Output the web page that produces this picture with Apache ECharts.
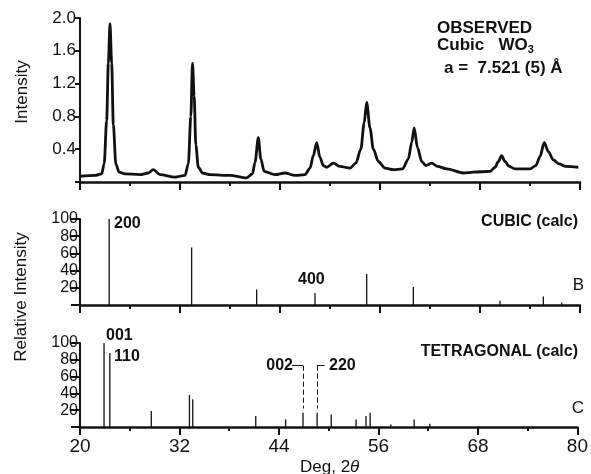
<!DOCTYPE html>
<html>
<head>
<meta charset="utf-8">
<script src="https://cdn.jsdelivr.net/npm/echarts@6/dist/echarts.min.js"></script>
<style>
  html, body { margin: 0; padding: 0; background: #fff; }
  #chart { width: 591px; height: 474px; }
</style>
</head>
<body>
<div id="chart"></div>
<script>
// observed pattern (deg 2theta, intensity)
const obsDeg = [20.0, 21.8, 22.6, 22.9, 23.2, 23.4, 23.6, 23.8, 24.0, 24.3, 24.7, 25.4, 27.2, 28.2, 28.8,
  29.6, 31.4, 32.6, 33.0, 33.3, 33.5, 33.7, 33.9, 34.2, 34.7, 35.6, 38.0, 40.0, 40.7, 41.0, 41.4, 41.7,
  42.1, 43.4, 44.6, 45.8, 47.0, 47.6, 48.0, 48.4, 48.8, 49.2, 49.6, 50.4, 51.2, 52.4, 53.1, 53.7, 54.1,
  54.4, 54.8, 55.2, 55.8, 56.6, 57.6, 58.7, 59.4, 59.8, 60.1, 60.5, 61.0, 61.5, 62.2, 62.9, 64.0, 66.0,
  67.2, 69.2, 69.8, 70.2, 70.6, 71.0, 71.5, 72.2, 74.0, 74.7, 75.2, 75.7, 76.2, 76.8, 77.5, 78.3, 79.8];
const obsInt = [0.07, 0.08, 0.10, 0.22, 0.75, 1.45, 1.93, 1.45, 0.70, 0.22, 0.12, 0.10, 0.09, 0.11, 0.15,
  0.09, 0.06, 0.08, 0.22, 0.80, 1.45, 1.05, 0.45, 0.18, 0.11, 0.09, 0.08, 0.05, 0.10, 0.24, 0.54, 0.28,
  0.13, 0.09, 0.11, 0.08, 0.09, 0.17, 0.32, 0.48, 0.30, 0.20, 0.18, 0.23, 0.19, 0.17, 0.23, 0.40, 0.72,
  0.97, 0.66, 0.40, 0.25, 0.17, 0.15, 0.16, 0.28, 0.48, 0.66, 0.42, 0.25, 0.20, 0.23, 0.19, 0.16, 0.11,
  0.12, 0.13, 0.18, 0.25, 0.32, 0.25, 0.19, 0.16, 0.16, 0.20, 0.31, 0.48, 0.37, 0.27, 0.22, 0.19, 0.18];

// calculated cubic lines
const cubicDeg = [23.5, 33.4, 41.2, 48.2, 54.4, 60.0, 70.4, 75.6, 77.8];
const cubicInt = [100, 67, 18, 14, 36, 21, 5, 10, 3];

// calculated tetragonal lines
const tetraDeg = [22.9, 23.6, 28.6, 33.2, 33.6, 41.2, 44.8, 46.9, 48.6, 50.3, 53.3, 54.5, 55.0, 57.5, 60.3, 62.2];
const tetraInt = [100, 88, 19, 38, 33, 13, 9, 17, 17, 15, 9, 13, 17, 3, 9, 4];

const xTicks = { min: 20, max: 80, interval: 12 };
const topTicks = { min: 0, max: 2.0, interval: 0.4 };
const relTicks = { min: 0, max: 100, interval: 20 };

const FONT = "'Liberation Sans', Arial, Helvetica, sans-serif";
const INK = '#111';

function pairs(xs, ys) {
  return xs.map((x, i) => [x, ys[i]]);
}

function xAxis(idx, showLabel) {
  return {
    type: 'value', gridIndex: idx, min: xTicks.min, max: xTicks.max, interval: xTicks.interval,
    axisLine: { show: true, onZero: false, lineStyle: { color: INK, width: 2.5 } },
    axisTick: { show: true, length: 8, lineStyle: { color: INK, width: 2 } },
    minorTick: { show: true, splitNumber: 2, length: 4, lineStyle: { color: INK, width: 2 } },
    splitLine: { show: false },
    axisLabel: { show: showLabel, color: INK, fontSize: 19, fontFamily: FONT, margin: 10 }
  };
}

function yAxis(idx, t, digits, fs, tickLen, margin) {
  return {
    type: 'value', gridIndex: idx, min: t.min, max: t.max, interval: t.interval,
    axisLine: { show: true, lineStyle: { color: INK, width: 2 } },
    axisTick: { show: true, length: tickLen, lineStyle: { color: INK, width: 2 } },
    splitLine: { show: false },
    axisLabel: {
      color: INK, fontSize: fs, fontFamily: FONT, margin: margin,
      formatter: v => (v === 0 ? '' : v.toFixed(digits))
    }
  };
}

const chart = echarts.init(document.getElementById('chart'));

const option = {
  animation: false,
  backgroundColor: '#fff',
  grid: [
    { left: 80, right: 11, top: 18, height: 164 },
    { left: 80, right: 11, top: 219, height: 86 },
    { left: 80, right: 11, top: 343, height: 84 }
  ],
  xAxis: [xAxis(0, false), xAxis(1, false), xAxis(2, true)],
  yAxis: [
    yAxis(0, topTicks, 1, 17, 5, 4),
    yAxis(1, relTicks, 0, 16, 9, 2),
    yAxis(2, relTicks, 0, 16, 9, 2)
  ],
  series: [
    {
      type: 'line', xAxisIndex: 0, yAxisIndex: 0,
      data: pairs(obsDeg, obsInt),
      showSymbol: false, smooth: 0.3, smoothMonotone: 'x',
      lineStyle: { color: INK, width: 2.8 }
    },
    {
      type: 'bar', xAxisIndex: 1, yAxisIndex: 1,
      data: pairs(cubicDeg, cubicInt),
      barWidth: 1.3, itemStyle: { color: INK }
    },
    {
      type: 'bar', xAxisIndex: 2, yAxisIndex: 2,
      data: pairs(tetraDeg, tetraInt),
      barWidth: 1.3, itemStyle: { color: INK },
      markLine: {
        silent: true, symbol: 'none', label: { show: false },
        lineStyle: { color: INK, width: 1, type: 'solid' },
        data: [
          [{ coord: [45.6, 73] }, { coord: [46.9, 73] }],
          [{ coord: [46.9, 73], lineStyle: { type: [5, 3] } }, { coord: [46.9, 22] }],
          [{ coord: [48.6, 73] }, { coord: [49.5, 73] }],
          [{ coord: [48.6, 73], lineStyle: { type: [5, 3] } }, { coord: [48.6, 22] }]
        ]
      }
    }
  ],
  graphic: [
    { type: 'text', x: 22, y: 92, rotation: Math.PI / 2,
      style: { text: 'Intensity', font: '17px ' + FONT, fill: INK, align: 'center', verticalAlign: 'middle' } },
    { type: 'text', x: 21, y: 297, rotation: Math.PI / 2,
      style: { text: 'Relative Intensity', font: '17px ' + FONT, fill: INK, align: 'center', verticalAlign: 'middle' } },
    { type: 'text', x: 300, y: 467,
      style: {
        text: '{a|Deg, 2}{b|θ}', fill: INK, verticalAlign: 'middle',
        rich: {
          a: { fontSize: 17, fontFamily: FONT, color: INK },
          b: { fontSize: 17, fontFamily: FONT, fontStyle: 'italic', color: INK }
        }
      } },
    { type: 'text', x: 437, y: 28,
      style: { text: 'OBSERVED', font: 'bold 17px ' + FONT, fill: INK, verticalAlign: 'middle' } },
    { type: 'text', x: 437, y: 45,
      style: {
        text: '{a|Cubic   WO}{s|3}', fill: INK, verticalAlign: 'middle',
        rich: {
          a: { fontSize: 17, fontWeight: 'bold', fontFamily: FONT, color: INK },
          s: { fontSize: 11, fontWeight: 'bold', fontFamily: FONT, color: INK, padding: [9, 0, 0, 0] }
        }
      } },
    { type: 'text', x: 444, y: 68,
      style: { text: 'a =  7.521 (5) Å', font: 'bold 17px ' + FONT, fill: INK, verticalAlign: 'middle' } },
    { type: 'text', x: 578, y: 222,
      style: { text: 'CUBIC (calc)', font: 'bold 16px ' + FONT, fill: INK, align: 'right', verticalAlign: 'middle' } },
    { type: 'text', x: 578, y: 352,
      style: { text: 'TETRAGONAL (calc)', font: 'bold 16px ' + FONT, fill: INK, align: 'right', verticalAlign: 'middle' } },
    { type: 'text', x: 584, y: 285,
      style: { text: 'B', font: '17px ' + FONT, fill: INK, align: 'right', verticalAlign: 'middle' } },
    { type: 'text', x: 584, y: 408,
      style: { text: 'C', font: '17px ' + FONT, fill: INK, align: 'right', verticalAlign: 'middle' } },
    { type: 'text', x: 114, y: 224,
      style: { text: '200', font: 'bold 16px ' + FONT, fill: INK, verticalAlign: 'middle' } },
    { type: 'text', x: 298, y: 280,
      style: { text: '400', font: 'bold 16px ' + FONT, fill: INK, verticalAlign: 'middle' } },
    { type: 'text', x: 106, y: 336,
      style: { text: '001', font: 'bold 16px ' + FONT, fill: INK, verticalAlign: 'middle' } },
    { type: 'text', x: 114, y: 357,
      style: { text: '110', font: 'bold 16px ' + FONT, fill: INK, verticalAlign: 'middle' } },
    { type: 'text', x: 293, y: 366,
      style: { text: '002', font: 'bold 16px ' + FONT, fill: INK, align: 'right', verticalAlign: 'middle' } },
    { type: 'text', x: 329, y: 366,
      style: { text: '220', font: 'bold 16px ' + FONT, fill: INK, verticalAlign: 'middle' } }
  ]
};

chart.setOption(option);
</script>
</body>
</html>
